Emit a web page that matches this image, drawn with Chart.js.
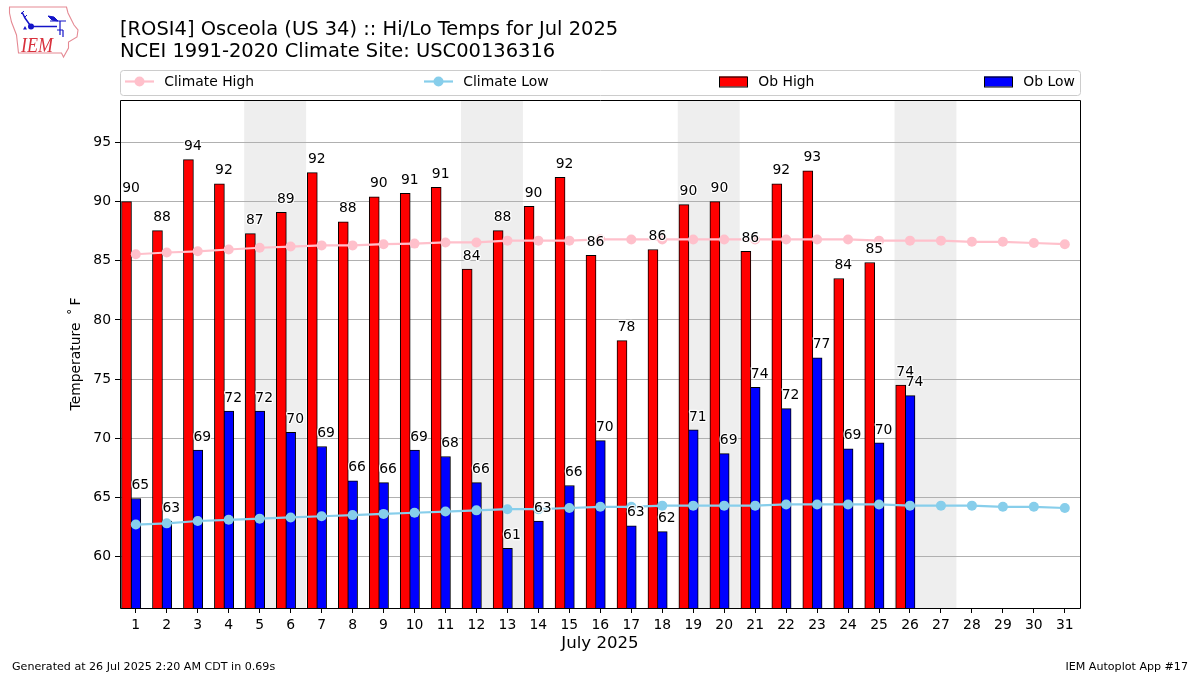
<!DOCTYPE html>
<html>
<head>
<meta charset="utf-8">
<title>Osceola Hi/Lo Temps</title>
<script src="https://cdn.jsdelivr.net/npm/chart.js@4"></script>
<style>
    html, body { margin: 0; padding: 0; background: #fff; }
    #wrap { position: relative; width: 1200px; height: 675px; overflow: hidden; font-family: "DejaVu Sans", sans-serif; color: #000; }
    #chart { position: absolute; left: 0; top: 0; }
    .txt { position: absolute; white-space: nowrap; }
    #t1 { left: 120px; top: 17px; font-size: 19.48px; line-height: 23px; }
    #t2 { left: 120px; top: 39px; font-size: 19.48px; line-height: 23px; }
    #foot1 { left: 12px; top: 660px; font-size: 11.1px; line-height: 13px; }
    #foot2 { right: 12px; top: 660px; font-size: 11.1px; line-height: 13px; }
    #logo { position: absolute; left: 8px; top: 5px; }
</style>
</head>
<body>
<div id="wrap">
    <canvas id="chart" width="1200" height="675"></canvas>
    <svg id="logo" width="72" height="54" viewBox="8 5 72 54">
        <path d="M9.5 7 L66.5 7 L68 13 L74 25 L78 30 L77 37 L68.5 42 L68.5 48 L63.5 57 L61.5 53 L18.5 53 L16.5 35 L11.5 22 L9.5 13 Z" fill="#fff" stroke="#e58a94" stroke-width="1.1"/>
        <path d="M22 12 L25 18 L31 26.5 L57 26.5" fill="none" stroke="#1414c8" stroke-width="1.5"/>
        <path d="M21 14 L24 11 M24 18 L27 15" fill="none" stroke="#1414c8" stroke-width="1"/>
        <path d="M48 16 L54 17 L58 21 L52 20 Z" fill="#1414c8" stroke="#1414c8" stroke-width="1"/>
        <path d="M50 21 L66 21 M60 21 L60 35 M57 30 L63 30 M63 30 L63 37" fill="none" stroke="#1414c8" stroke-width="1.2"/>
        <circle cx="31" cy="26.5" r="3" fill="#1414c8"/>
        <path d="M23 29.5 L25 26 L27 29.5 Z" fill="#1414c8"/>
        <text x="21" y="52" font-family="Liberation Serif" font-style="italic" font-size="22" textLength="32" lengthAdjust="spacingAndGlyphs" fill="#d8303c">IEM</text>
    </svg>
    <div class="txt" id="t1">[ROSI4] Osceola (US 34) :: Hi/Lo Temps for Jul 2025</div>
    <div class="txt" id="t2">NCEI 1991-2020 Climate Site: USC00136316</div>
    <div class="txt" id="foot1">Generated at 26 Jul 2025 2:20 AM CDT in 0.69s</div>
    <div class="txt" id="foot2">IEM Autoplot App #17</div>
</div>
<script>
const days = [1, 2, 3, 4, 5, 6, 7, 8, 9, 10, 11, 12, 13, 14, 15, 16, 17, 18, 19, 20, 21, 22, 23, 24, 25, 26, 27, 28, 29, 30, 31];
const obDays = days.slice(0, 26);
const obHigh = [90.0, 87.55, 93.55, 91.5, 87.3, 89.1, 92.45, 88.3, 90.4, 90.7, 91.2, 84.3, 87.55, 89.6, 92.05, 85.45, 78.25, 85.95, 89.75, 90.0, 85.8, 91.5, 92.6, 83.5, 84.85, 74.5];
const obLow = [64.9, 63.0, 69.0, 72.3, 72.3, 70.5, 69.3, 66.4, 66.25, 69.0, 68.45, 66.25, 60.7, 63.0, 66.0, 69.8, 62.6, 62.1, 70.7, 68.7, 74.3, 72.5, 76.8, 69.1, 69.6, 73.6];
const obHighLabels = [90, 88, 94, 92, 87, 89, 92, 88, 90, 91, 91, 84, 88, 90, 92, 86, 78, 86, 90, 90, 86, 92, 93, 84, 85, 74];
const obLowLabels = [65, 63, 69, 72, 72, 70, 69, 66, 66, 69, 68, 66, 61, 63, 66, 70, 63, 62, 71, 69, 74, 72, 77, 69, 70, 74];
const climateHigh = [85.55, 85.7, 85.8, 85.95, 86.1, 86.2, 86.3, 86.3, 86.4, 86.45, 86.55, 86.55, 86.7, 86.7, 86.7, 86.8, 86.8, 86.8, 86.8, 86.8, 86.8, 86.8, 86.8, 86.8, 86.7, 86.7, 86.7, 86.6, 86.6, 86.5, 86.4];
const climateLow = [62.7, 62.8, 63.0, 63.1, 63.2, 63.3, 63.4, 63.5, 63.6, 63.7, 63.8, 63.9, 64.0, 64.0, 64.1, 64.2, 64.2, 64.3, 64.3, 64.3, 64.3, 64.4, 64.4, 64.4, 64.4, 64.3, 64.3, 64.3, 64.2, 64.2, 64.1];
const weekends = [[4.5, 6.5], [11.5, 13.5], [18.5, 20.5], [25.5, 27.5]];
const yTicks = [60, 65, 70, 75, 80, 85, 90, 95];
const barOffset = 0.3;

const FONT = '"DejaVu Sans", sans-serif';

// weekend bands and the white page go under the grid
const backgroundPlugin = {
    id: 'background',
    beforeDraw(chart) {
        const { ctx, chartArea, scales } = chart;
        ctx.save();
        ctx.fillStyle = '#fff';
        ctx.fillRect(0, 0, chart.width, chart.height);
        ctx.fillStyle = '#eeeeee';
        weekends.forEach(([from, to]) => {
            const x0 = scales.x.getPixelForValue(from);
            const x1 = scales.x.getPixelForValue(to);
            ctx.fillRect(x0, chartArea.top, x1 - x0, chartArea.bottom - chartArea.top);
        });
        ctx.restore();
    }
};

// number above each bar, white halo like the original
const barLabelPlugin = {
    id: 'barLabels',
    afterDraw(chart) {
        const { ctx, chartArea, scales } = chart;
        ctx.save();
        ctx.font = `13.9px ${FONT}`;
        ctx.textAlign = 'center';
        ctx.textBaseline = 'middle';
        ctx.lineJoin = 'round';
        const put = (text, xVal, yVal) => {
            const x = scales.x.getPixelForValue(xVal) + 4.5;
            const y = scales.y.getPixelForValue(yVal) - 13;
            ctx.strokeStyle = 'rgba(255,255,255,0.9)';
            ctx.lineWidth = 2.5;
            ctx.strokeText(text, x, y);
            ctx.fillStyle = '#000';
            ctx.fillText(text, x, y);
        };
        obDays.forEach((d, i) => {
            put(String(obHighLabels[i]), d - barOffset, obHigh[i]);
            put(String(obLowLabels[i]), d, obLow[i]);
        });
        // axes frame
        ctx.strokeStyle = '#000';
        ctx.lineWidth = 1;
        ctx.strokeRect(chartArea.left + 0.5, chartArea.top + 0.5, chartArea.right - chartArea.left, chartArea.bottom - chartArea.top);
        ctx.restore();
    }
};

// legend stretched over the axes width, four columns
const legendPlugin = {
    id: 'wideLegend',
    afterDraw(chart) {
        const { ctx, chartArea } = chart;
        const top = 70, height = 25, midY = top + height / 2 - 1;
        ctx.save();
        ctx.strokeStyle = '#cccccc';
        ctx.lineWidth = 1;
        ctx.beginPath();
        ctx.roundRect(chartArea.left + 0.5, top + 0.5, chartArea.right - chartArea.left, height, 3);
        ctx.stroke();
        ctx.font = `13.9px ${FONT}`;
        ctx.textBaseline = 'middle';
        ctx.textAlign = 'left';
        const slots = [125, 424, 719, 984];
        chart.data.datasets.forEach((ds) => {
            const x = slots[ds.legendSlot];
            if (ds.type === 'line') {
                ctx.strokeStyle = ds.borderColor;
                ctx.lineWidth = 2.2;
                ctx.beginPath();
                ctx.moveTo(x, midY);
                ctx.lineTo(x + 29, midY);
                ctx.stroke();
                ctx.fillStyle = ds.borderColor;
                ctx.beginPath();
                ctx.arc(x + 14.5, midY, 5, 0, Math.PI * 2);
                ctx.fill();
            } else {
                ctx.fillStyle = ds.backgroundColor;
                ctx.fillRect(x, midY - 5, 28, 10);
                ctx.strokeStyle = '#000';
                ctx.lineWidth = 1;
                ctx.strokeRect(x + 0.5, midY - 4.5, 28, 10);
            }
            ctx.fillStyle = '#000';
            ctx.fillText(ds.label, x + 39.3, midY + 1);
        });
        ctx.restore();
    }
};

new Chart(document.getElementById('chart').getContext('2d'), {
    type: 'bar',
    data: {
        datasets: [
            {
                type: 'line',
                label: 'Climate High',
                legendSlot: 0,
                data: days.map((d, i) => ({ x: d, y: climateHigh[i] })),
                borderColor: '#FFC0CB',
                backgroundColor: '#FFC0CB',
                borderWidth: 2.2,
                pointRadius: 5,
                pointBorderWidth: 0,
                tension: 0,
                order: 1
            },
            {
                type: 'line',
                label: 'Climate Low',
                legendSlot: 1,
                data: days.map((d, i) => ({ x: d, y: climateLow[i] })),
                borderColor: '#87CEEB',
                backgroundColor: '#87CEEB',
                borderWidth: 2.2,
                pointRadius: 5,
                pointBorderWidth: 0,
                tension: 0,
                order: 1
            },
            {
                type: 'bar',
                label: 'Ob High',
                legendSlot: 2,
                data: obDays.map((d, i) => ({ x: d - barOffset, y: obHigh[i] })),
                backgroundColor: '#ff0000',
                borderColor: '#000',
                borderWidth: 1,
                barThickness: 10,
                grouped: false,
                order: 2
            },
            {
                type: 'bar',
                label: 'Ob Low',
                legendSlot: 3,
                data: obDays.map((d, i) => ({ x: d, y: obLow[i] })),
                backgroundColor: '#0000ff',
                borderColor: '#000',
                borderWidth: 1,
                barThickness: 10,
                grouped: false,
                order: 2
            }
        ]
    },
    options: {
        responsive: false,
        animation: false,
        devicePixelRatio: 1,
        layout: { padding: { left: 67, right: 120, top: 100, bottom: 0 } },
        plugins: { legend: { display: false }, title: { display: false }, tooltip: { enabled: false } },
        scales: {
            x: {
                type: 'linear',
                offset: false,
                min: 0.49,
                max: 31.49,
                afterFit: (scale) => { scale.height = 67; },
                afterBuildTicks: (scale) => { scale.ticks = days.map((d) => ({ value: d })); },
                grid: { offset: false, drawOnChartArea: false, tickColor: '#000', tickLength: 5, tickWidth: 1 },
                border: { display: false },
                ticks: { color: '#000', font: { family: FONT, size: 13.9 }, padding: 4, maxRotation: 0, autoSkip: false, callback: (v) => String(v) },
                title: { display: true, text: 'July 2025', color: '#000', font: { family: FONT, size: 16.6 }, padding: { top: 0, bottom: 21 } }
            },
            y: {
                type: 'linear',
                min: 55.646,
                max: 98.59,
                afterFit: (scale) => { scale.width = 53; },
                afterBuildTicks: (scale) => { scale.ticks = yTicks.map((v) => ({ value: v })); },
                grid: { color: '#b0b0b0', lineWidth: 1, tickColor: '#000', tickLength: 5, tickWidth: 1 },
                border: { display: false },
                ticks: { color: '#000', font: { family: FONT, size: 13.9 }, padding: 4 },
                title: { display: true, text: 'Temperature \u2009\u02da\u2009F', color: '#000', font: { family: FONT, size: 13.9 }, padding: { top: 1, bottom: 0 } }
            }
        }
    },
    plugins: [backgroundPlugin, barLabelPlugin, legendPlugin]
});
</script>
</body>
</html>
